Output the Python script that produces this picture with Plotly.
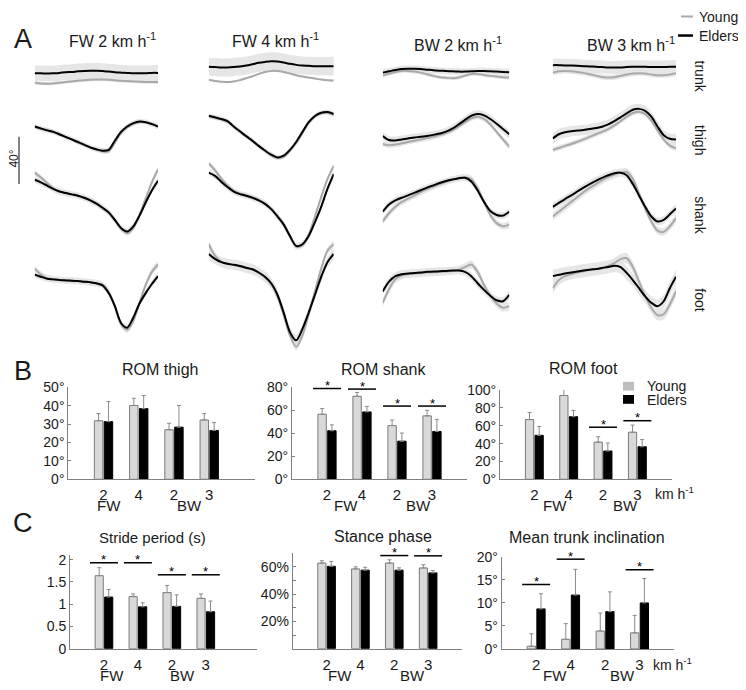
import plotly.graph_objects as go

# ---------------------------------------------------------------- data
gait_cycle = [0, 5, 10, 15, 20, 25, 30, 35, 40, 45, 50, 55, 60, 65, 70, 75, 80, 85, 90, 95, 100]
conditions = ["FW 2", "FW 4", "BW 2", "BW 3"]
segments = ["trunk", "thigh", "shank", "foot"]

# segment angles (deg) over the gait cycle, one list per condition (FW2, FW4, BW2, BW3)
trunk_young = [
    [1.5, 1.0, 0.8, 1.0, 1.5, 2.0, 2.5, 3.0, 3.5, 3.8, 4.0, 4.0, 3.8, 3.5, 3.0, 2.8, 2.5, 2.3, 2.0, 2.0, 2.0],
    [3.8, 2.8, 2.3, 2.0, 2.5, 3.5, 5.0, 6.5, 8.3, 9.8, 10.6, 10.6, 9.8, 8.6, 7.3, 6.3, 5.5, 4.8, 4.0, 3.5, 3.3],
    [7.0, 8.6, 9.8, 10.6, 10.6, 10.1, 9.3, 8.1, 6.8, 5.8, 5.3, 5.0, 5.5, 7.0, 8.3, 8.3, 7.5, 6.8, 6.3, 5.8, 5.5],
    [9.3, 10.3, 10.6, 10.3, 9.8, 9.1, 8.1, 7.0, 6.0, 5.5, 5.8, 6.8, 7.8, 8.6, 8.8, 8.6, 7.8, 7.3, 7.3, 7.8, 8.8],
]
trunk_elders = [
    [8.8, 8.8, 8.6, 8.8, 9.1, 9.6, 9.8, 10.3, 10.6, 10.8, 10.8, 10.6, 10.1, 9.6, 9.3, 9.1, 8.8, 8.8, 8.8, 9.1, 9.1],
    [13.8, 13.6, 13.3, 13.3, 13.6, 14.1, 14.8, 15.8, 16.9, 17.6, 18.1, 17.9, 17.1, 16.1, 15.3, 14.8, 14.6, 14.3, 14.3, 14.3, 14.3],
    [9.3, 10.3, 11.3, 12.1, 12.3, 12.3, 12.1, 11.6, 11.1, 10.8, 10.6, 10.3, 10.1, 10.1, 10.3, 10.6, 10.6, 10.3, 10.1, 9.8, 9.6],
    [15.1, 15.1, 14.8, 14.8, 14.6, 14.3, 14.1, 13.8, 13.6, 13.3, 13.3, 13.3, 13.6, 13.8, 13.8, 13.8, 13.6, 13.6, 13.6, 13.8, 13.8],
]
thigh_young = [
    [22.6, 21.1, 20.6, 19.1, 17.1, 15.1, 13.1, 10.8, 8.8, 6.8, 5.0, 3.8, 3.8, 10.6, 17.9, 22.4, 25.2, 26.4, 26.4, 25.2, 23.1],
    [30.9, 29.7, 28.7, 26.7, 22.9, 19.1, 15.3, 11.8, 7.8, 4.3, 0.8, -1.3, -0.3, 4.3, 10.3, 18.1, 25.7, 30.7, 33.2, 33.7, 32.2],
    [9.6, 8.6, 9.1, 10.1, 11.1, 12.1, 13.1, 14.1, 15.1, 16.4, 18.1, 20.1, 23.1, 26.4, 29.4, 30.7, 28.9, 24.7, 18.9, 13.1, 7.5],
    [5.0, 6.5, 8.1, 9.6, 11.3, 13.1, 15.1, 17.1, 18.9, 21.1, 23.9, 27.2, 30.7, 33.5, 34.5, 32.7, 27.7, 20.1, 13.1, 8.3, 6.3],
]
thigh_elders = [
    [23.1, 21.6, 20.1, 18.9, 17.1, 15.1, 13.1, 11.1, 9.1, 7.0, 5.5, 4.3, 5.0, 12.1, 18.9, 23.1, 25.7, 26.9, 26.4, 24.9, 23.1],
    [31.4, 30.2, 28.9, 27.2, 23.1, 19.4, 15.6, 12.1, 8.1, 4.5, 1.3, -0.8, 0.5, 5.0, 11.1, 18.9, 26.4, 31.2, 33.7, 34.2, 32.7],
    [15.8, 12.6, 12.3, 13.1, 13.8, 14.6, 15.1, 15.8, 16.6, 17.6, 19.1, 21.4, 24.7, 28.2, 31.4, 32.7, 31.7, 28.9, 25.2, 21.1, 17.1],
    [13.8, 17.1, 18.6, 19.4, 19.9, 20.4, 21.1, 21.9, 22.9, 24.7, 27.2, 30.2, 33.2, 36.0, 36.7, 35.2, 30.7, 23.1, 16.4, 13.6, 13.1],
]
shank_young = [
    [50.3, 46.5, 42.3, 38.2, 36.0, 34.7, 33.7, 32.7, 31.2, 29.2, 26.7, 23.4, 19.1, 13.3, 7.0, 3.5, 7.5, 17.6, 30.2, 42.8, 52.8],
    [57.4, 52.3, 45.8, 40.3, 36.2, 34.0, 32.7, 31.2, 29.2, 26.4, 22.4, 16.9, 10.6, 1.0, -7.0, -6.0, 2.5, 16.4, 31.4, 45.3, 55.3],
    [12.6, 18.9, 23.9, 27.7, 30.2, 32.7, 35.2, 37.5, 39.5, 41.5, 43.3, 44.8, 46.0, 46.8, 45.3, 38.2, 27.7, 17.6, 11.3, 8.8, 10.1],
    [16.4, 20.1, 23.9, 27.7, 31.4, 35.2, 38.5, 41.5, 44.3, 46.8, 48.8, 50.3, 50.8, 45.3, 34.0, 22.6, 12.6, 5.5, 4.5, 8.8, 15.1],
]
shank_elders = [
    [44.8, 42.8, 40.3, 37.7, 35.7, 34.5, 33.5, 32.5, 30.9, 28.9, 26.4, 23.1, 19.6, 13.8, 7.5, 4.8, 8.8, 17.1, 27.2, 36.5, 44.0],
    [50.3, 47.8, 43.3, 39.2, 35.7, 33.7, 32.5, 30.9, 28.9, 26.2, 22.1, 16.4, 10.1, 1.3, -6.3, -5.0, 1.3, 12.1, 23.9, 37.7, 49.1],
    [20.1, 25.7, 28.9, 30.9, 32.7, 34.7, 36.7, 38.7, 40.5, 42.3, 43.8, 45.0, 46.0, 46.3, 43.5, 36.5, 27.7, 20.6, 17.6, 17.1, 20.1],
    [23.9, 26.9, 29.9, 32.7, 35.7, 38.7, 41.5, 44.0, 46.3, 48.3, 49.8, 50.3, 48.3, 41.5, 32.7, 23.9, 16.4, 12.6, 13.8, 18.1, 22.6],
]
foot_young = [
    [51.6, 47.0, 44.3, 43.3, 42.8, 42.5, 42.3, 42.0, 41.5, 41.0, 40.3, 39.2, 33.5, 22.6, 8.8, 4.3, 11.3, 25.2, 39.0, 49.1, 54.8],
    [70.4, 61.6, 57.1, 55.3, 54.3, 53.3, 52.1, 50.8, 48.3, 44.8, 39.5, 30.2, 15.6, 0.0, -8.8, 0.0, 16.4, 34.0, 51.6, 65.4, 70.4],
    [25.2, 35.7, 43.5, 46.3, 47.3, 47.8, 48.1, 48.6, 48.8, 49.1, 49.3, 49.8, 50.8, 52.8, 54.8, 49.1, 39.0, 30.7, 24.7, 21.4, 22.6],
    [36.5, 42.8, 45.8, 47.3, 48.6, 49.6, 50.6, 51.3, 52.3, 53.6, 55.8, 58.9, 59.6, 52.8, 41.5, 30.2, 21.4, 15.6, 16.4, 23.9, 34.0],
]
foot_elders = [
    [47.0, 45.3, 43.8, 43.3, 42.8, 42.5, 42.3, 42.0, 41.5, 41.0, 40.3, 38.7, 32.7, 22.6, 9.6, 6.0, 13.8, 24.7, 32.7, 39.7, 45.8],
    [62.9, 59.1, 56.6, 55.3, 54.6, 53.6, 52.3, 51.1, 48.6, 45.3, 40.3, 31.4, 17.6, 2.5, -3.8, 5.0, 17.6, 31.4, 45.3, 56.6, 62.9],
    [34.0, 41.5, 45.8, 47.3, 47.8, 48.3, 48.6, 49.1, 49.3, 49.6, 49.8, 50.1, 50.1, 49.1, 45.8, 40.3, 35.2, 30.7, 27.2, 26.4, 31.4],
    [45.8, 46.8, 47.8, 48.6, 49.3, 50.1, 50.8, 51.3, 52.1, 52.8, 53.8, 52.8, 48.3, 42.8, 36.5, 30.2, 25.2, 22.6, 26.4, 36.5, 45.3],
]
# standard deviations (deg) per condition
trunk_sd_young = [1.3, 0.7, 1.5, 2.0]
trunk_sd_elders = [6.0, 7.0, 2.5, 5.0]
thigh_sd_young = [1.5, 1.5, 2.0, 2.0]
thigh_sd_elders = [2.0, 2.0, 3.0, 4.0]
shank_sd_young = [2.0, 2.0, 2.5, 3.0]
shank_sd_elders = [2.5, 2.5, 2.5, 3.0]
foot_sd_young = [2.5, 2.5, 3.0, 4.0]
foot_sd_elders = [2.5, 4.0, 3.0, 5.0]

# bar charts: groups FW2, FW4, BW2, BW3
group_pos = [1, 2, 3, 4]
speed_labels = ["2", "4", "2", "3"]

rom_thigh_young = [31.9, 40.2, 27.0, 32.3]
rom_thigh_young_sd = [3.9, 3.9, 3.5, 3.5]
rom_thigh_elders = [31.4, 38.5, 28.4, 26.6]
rom_thigh_elders_sd = [11.0, 7.1, 11.8, 4.3]
rom_thigh_sig = []
rom_thigh_sig_level = []

rom_shank_young = [56.7, 72.3, 46.8, 55.3]
rom_shank_young_sd = [4.9, 3.4, 4.8, 4.8]
rom_shank_elders = [42.3, 58.7, 33.2, 41.7]
rom_shank_elders_sd = [5.1, 4.8, 7.1, 10.5]
rom_shank_sig = [0, 1, 2, 3]
rom_shank_sig_level = [79.1, 78.6, 63.8, 63.8]

rom_foot_young = [67.0, 94.0, 41.7, 52.8]
rom_foot_young_sd = [8.0, 8.0, 6.0, 8.0]
rom_foot_elders = [49.3, 70.2, 31.7, 36.5]
rom_foot_elders_sd = [10.0, 7.0, 9.0, 8.0]
rom_foot_sig = [0, 1, 2, 3]
rom_foot_sig_level = [103.6, 110.0, 58.4, 65.7]

stride_young = [1.64, 1.17, 1.26, 1.13]
stride_young_sd = [0.18, 0.06, 0.16, 0.10]
stride_elders = [1.16, 0.94, 0.95, 0.83]
stride_elders_sd = [0.17, 0.09, 0.26, 0.24]
stride_sig = [0, 1, 2, 3]
stride_sig_level = [1.93, 1.93, 1.66, 1.66]

stance_young = [62.8, 58.5, 62.8, 59.2]
stance_young_sd = [1.7, 1.5, 2.4, 2.4]
stance_elders = [60.4, 57.6, 57.6, 55.6]
stance_elders_sd = [3.6, 2.1, 1.7, 1.7]
stance_sig = [2, 3]
stance_sig_level = [68.3, 68.1]

trunk_incl_young = [0.6, 2.1, 3.9, 3.5]
trunk_incl_young_sd = [2.7, 3.4, 3.9, 3.8]
trunk_incl_elders = [8.7, 11.7, 8.1, 10.0]
trunk_incl_elders_sd = [3.3, 5.6, 4.3, 5.3]
trunk_incl_sig = [0, 1, 3]
trunk_incl_sig_level = [14.0, 19.5, 17.2]

# ---------------------------------------------------------------- layout helpers
OFF = 8                    # default page body margin
W, H = 746, 690
FONT = "Liberation Sans, Arial, sans-serif"
GRAY_LINE = "#a9a9a9"
BAND = "#e6e6e6"
AXIS = "#808080"
TXT = "#1a1a1a"


def X(px):
    return (px - OFF) / W


def Y(py):
    return 1 - (py - OFF) / H


fig = go.Figure()
axes = {}
annotations = []
shapes = []
counter = [0]


def add_axes(px_x0, px_x1, px_y0, px_y1, xaxis, yaxis):
    counter[0] += 1
    n = counter[0]
    s = "" if n == 1 else str(n)
    axes["xaxis" + s] = dict(xaxis, domain=[X(px_x0), X(px_x1)], anchor="y" + s)
    axes["yaxis" + s] = dict(yaxis, domain=[Y(px_y1), Y(px_y0)], anchor="x" + s)
    return "x" + s, "y" + s


def note(text, px, py, size=14, xanchor="center", angle=0, color=TXT):
    annotations.append(dict(text=text, x=X(px), y=Y(py), xref="paper", yref="paper",
                            xanchor=xanchor, yanchor="middle", showarrow=False, textangle=angle,
                            font=dict(family=FONT, size=size, color=color)))


def hline(x0, x1, y, color, width):
    shapes.append(dict(type="line", xref="paper", yref="paper", x0=X(x0), x1=X(x1),
                       y0=Y(y), y1=Y(y), line=dict(color=color, width=width)))


# ---------------------------------------------------------------- panel A
young_sets = {"trunk": trunk_young, "thigh": thigh_young, "shank": shank_young, "foot": foot_young}
elder_sets = {"trunk": trunk_elders, "thigh": thigh_elders, "shank": shank_elders, "foot": foot_elders}
young_sds = {"trunk": trunk_sd_young, "thigh": thigh_sd_young, "shank": shank_sd_young, "foot": foot_sd_young}
elder_sds = {"trunk": trunk_sd_elders, "thigh": thigh_sd_elders, "shank": shank_sd_elders, "foot": foot_sd_elders}

PX_PER_DEG = 1.325
col_px = [(34.7, 158.0), (208.7, 333.7), (382.7, 509.3), (552.7, 676.0)]
row_px = {"trunk": (78.3, 43, 86), "thigh": (151.7, 95, 165),
          "shank": (235.0, 150, 256), "foot": (335.0, 232, 362)}

for seg in segments:
    zero, top, bot = row_px[seg]
    yr = [(zero - bot) / PX_PER_DEG, (zero - top) / PX_PER_DEG]
    for c in range(4):
        xa, ya = add_axes(col_px[c][0], col_px[c][1], top, bot,
                          dict(range=[0, 100], visible=False, fixedrange=True),
                          dict(range=yr, visible=False, fixedrange=True))
        for data, sd in ((young_sets[seg][c], young_sds[seg][c]), (elder_sets[seg][c], elder_sds[seg][c])):
            upper = [v + sd for v in data]
            lower = [v - sd for v in data]
            fig.add_trace(go.Scatter(x=gait_cycle + gait_cycle[::-1], y=upper + lower[::-1],
                                     fill="toself", fillcolor=BAND, mode="lines",
                                     line=dict(width=0, color=BAND, shape="spline", smoothing=0.8),
                                     xaxis=xa, yaxis=ya, showlegend=False, hoverinfo="skip"))
        fig.add_trace(go.Scatter(x=gait_cycle, y=young_sets[seg][c], mode="lines",
                                 line=dict(color=GRAY_LINE, width=2, shape="spline", smoothing=0.8),
                                 xaxis=xa, yaxis=ya, showlegend=False, name="Young"))
        fig.add_trace(go.Scatter(x=gait_cycle, y=elder_sets[seg][c], mode="lines",
                                 line=dict(color="black", width=2, shape="spline", smoothing=0.8),
                                 xaxis=xa, yaxis=ya, showlegend=False, name="Elders"))

# column titles
for cond, (cx, cy) in zip(conditions, [(112, 33), (275, 33), (458, 37), (631, 37)]):
    note(cond + " km h<sup>-1</sup>", cx, cy, size=16)
# row labels
for seg, ry in zip(segments, [70, 135, 212, 298]):
    note(seg, 700, ry, size=14, angle=90)
# legend A
hline(681, 693, 8.5, GRAY_LINE, 2)
hline(678, 693, 28, "black", 2.5)
note("Young", 697, 9, size=14, xanchor="left")
note("Elders", 697, 28, size=14, xanchor="left")
# scale bar 40 deg
shapes.append(dict(type="line", xref="paper", yref="paper", x0=X(19), x1=X(19),
                   y0=Y(131.5), y1=Y(180), line=dict(color="#333333", width=1.2)))
note("40°", 14, 154, size=12, angle=-90)

# panel letters
note("A", 23, 32, size=27)
note("B", 22.5, 371, size=27)
note("C", 23, 527, size=27)

# ---------------------------------------------------------------- panels B and C
bar_panels = [
    dict(title="ROM thigh", tsize=16, young=rom_thigh_young, ysd=rom_thigh_young_sd, elders=rom_thigh_elders,
         esd=rom_thigh_elders_sd, sig=rom_thigh_sig, sig_level=rom_thigh_sig_level,
         yrange=[0, 50], tickvals=[0, 10, 20, 30, 40, 50], ticktext=None, minor=None, suffix="°",
         box=(68.3, 255, 388.3, 482.3), xrange=[0, 5.3], title_xy=(160, 370),
         fwbw=(1.15, 3.45), lab_y=509, kmh=None),
    dict(title="ROM shank", tsize=16, young=rom_shank_young, ysd=rom_shank_young_sd, elders=rom_shank_elders,
         esd=rom_shank_elders_sd, sig=rom_shank_sig, sig_level=rom_shank_sig_level,
         yrange=[0, 80], tickvals=[0, 20, 40, 60, 80], ticktext=None, minor=None, suffix="°",
         box=(292, 467, 388.3, 482.3), xrange=[0, 5], title_xy=(383, 370),
         fwbw=(1.55, 3.6), lab_y=509, kmh=None),
    dict(title="ROM foot", tsize=16, young=rom_foot_young, ysd=rom_foot_young_sd, elders=rom_foot_elders,
         esd=rom_foot_elders_sd, sig=rom_foot_sig, sig_level=rom_foot_sig_level,
         yrange=[0, 100], tickvals=[0, 20, 40, 60, 80, 100], ticktext=None, minor=None, suffix="°",
         box=(500, 671.7, 391, 482.3), xrange=[0, 5], title_xy=(583, 369),
         fwbw=(1.6, 3.65), lab_y=509, kmh=(674, 496.5)),
    dict(title="Stride period (s)", tsize=15, young=stride_young, ysd=stride_young_sd, elders=stride_elders,
         esd=stride_elders_sd, sig=stride_sig, sig_level=stride_sig_level,
         yrange=[0, 2.1], tickvals=[0, 0.5, 1, 1.5, 2], ticktext=["0", "0.5", "1", "1.5", "2"],
         minor=None, suffix="",
         box=(70, 256.7, 560, 655.7), xrange=[0, 5.5], title_xy=(152, 542),
         fwbw=(1.25, 3.3), lab_y=683, kmh=None),
    dict(title="Stance phase", tsize=16, young=stance_young, ysd=stance_young_sd, elders=stance_elders,
         esd=stance_elders_sd, sig=stance_sig, sig_level=stance_sig_level,
         yrange=[0, 70], tickvals=[20, 40, 60], ticktext=["20%", "40%", "60%"], minor=[10, 30, 50],
         suffix="",
         box=(292.7, 462, 558, 655.7), xrange=[0, 5], title_xy=(383, 541),
         fwbw=(1.4, 3.55), lab_y=683, kmh=None),
    dict(title="Mean trunk inclination", tsize=16, young=trunk_incl_young, ysd=trunk_incl_young_sd,
         elders=trunk_incl_elders, esd=trunk_incl_elders_sd, sig=trunk_incl_sig,
         sig_level=trunk_incl_sig_level,
         yrange=[0, 20], tickvals=[0, 5, 10, 15, 20], ticktext=None, minor=None, suffix="°",
         box=(501.7, 674, 561.7, 656), xrange=[0, 5], title_xy=(587, 542),
         fwbw=(1.55, 3.5), lab_y=683, kmh=(672, 671)),
]

for p in bar_panels:
    x0, x1, y0, y1 = p["box"]
    yaxis = dict(range=p["yrange"], tickmode="array", tickvals=p["tickvals"],
                 showline=True, linecolor=AXIS, linewidth=1, ticks="inside", ticklen=3,
                 tickcolor=AXIS, showgrid=False, zeroline=False, fixedrange=True,
                 tickfont=dict(family=FONT, size=14, color=TXT))
    if p["ticktext"] is not None:
        yaxis["ticktext"] = p["ticktext"]
    else:
        yaxis["ticktext"] = [f"{v}{p['suffix']}" for v in p["tickvals"]]
    if p["minor"] is not None:
        yaxis["minor"] = dict(tickmode="array", tickvals=p["minor"], ticks="inside", ticklen=3,
                              tickcolor=AXIS, showgrid=False)
    xaxis = dict(range=p["xrange"], tickmode="array", tickvals=group_pos, ticktext=speed_labels,
                 showline=True, linecolor=AXIS, linewidth=1, ticks="", showgrid=False,
                 zeroline=False, fixedrange=True, ticklabelstandoff=2,
                 tickfont=dict(family=FONT, size=15, color=TXT))
    xa, ya = add_axes(x0, x1, y0, y1, xaxis, yaxis)
    fig.add_trace(go.Bar(x=group_pos, y=p["young"], width=0.24, offset=-0.26,
                         marker=dict(color="#d9d9d9", line=dict(color="#7a7a7a", width=1)),
                         error_y=dict(type="data", array=p["ysd"], arrayminus=[0] * 4, symmetric=False,
                                      color="#8a8a8a", thickness=1, width=2),
                         xaxis=xa, yaxis=ya, showlegend=False, name="Young"))
    fig.add_trace(go.Bar(x=group_pos, y=p["elders"], width=0.24, offset=0.02,
                         marker=dict(color="black", line=dict(color="black", width=1)),
                         error_y=dict(type="data", array=p["esd"], arrayminus=[0] * 4, symmetric=False,
                                      color="#8a8a8a", thickness=1, width=2),
                         xaxis=xa, yaxis=ya, showlegend=False, name="Elders"))
    if p["sig"]:
        sx = [group_pos[i] for i in p["sig"]]
        fig.add_trace(go.Scatter(x=sx, y=p["sig_level"], mode="markers",
                                 marker=dict(symbol="line-ew", size=20, color="black",
                                             line=dict(color="black", width=1.5)),
                                 cliponaxis=False, xaxis=xa, yaxis=ya, showlegend=False,
                                 hoverinfo="skip"))
        for gx, gy in zip(sx, p["sig_level"]):
            annotations.append(dict(text="*", x=gx, y=gy, xref=xa, yref=ya, showarrow=False,
                                    xanchor="center", yanchor="middle", yshift=3,
                                    font=dict(family=FONT, size=13, color="black")))
    note(p["title"], p["title_xy"][0], p["title_xy"][1], size=p["tsize"])
    # FW / BW labels under the speed ticks
    for lab, lx in zip(["FW", "BW"], p["fwbw"]):
        px = x0 + (lx - p["xrange"][0]) / (p["xrange"][1] - p["xrange"][0]) * (x1 - x0)
        note(lab, px, p["lab_y"], size=15)
    if p["kmh"]:
        note("km h<sup>-1</sup>", p["kmh"][0], p["kmh"][1], size=14)

# legend B
shapes.append(dict(type="rect", xref="paper", yref="paper", x0=X(623), x1=X(634),
                   y0=Y(391.5), y1=Y(382.5), fillcolor="#bdbdbd", line=dict(width=0)))
shapes.append(dict(type="rect", xref="paper", yref="paper", x0=X(623), x1=X(634),
                   y0=Y(405), y1=Y(396), fillcolor="black", line=dict(width=0)))
note("Young", 645, 387, size=14, xanchor="left")
note("Elders", 645, 401, size=14, xanchor="left")

fig.update_layout(
    width=W, height=H, margin=dict(l=0, r=0, t=0, b=0),
    paper_bgcolor="white", plot_bgcolor="rgba(0,0,0,0)",
    font=dict(family=FONT, color=TXT), barmode="overlay",
    annotations=annotations, shapes=shapes, showlegend=False, **axes)

fig.write_html("out.html")
